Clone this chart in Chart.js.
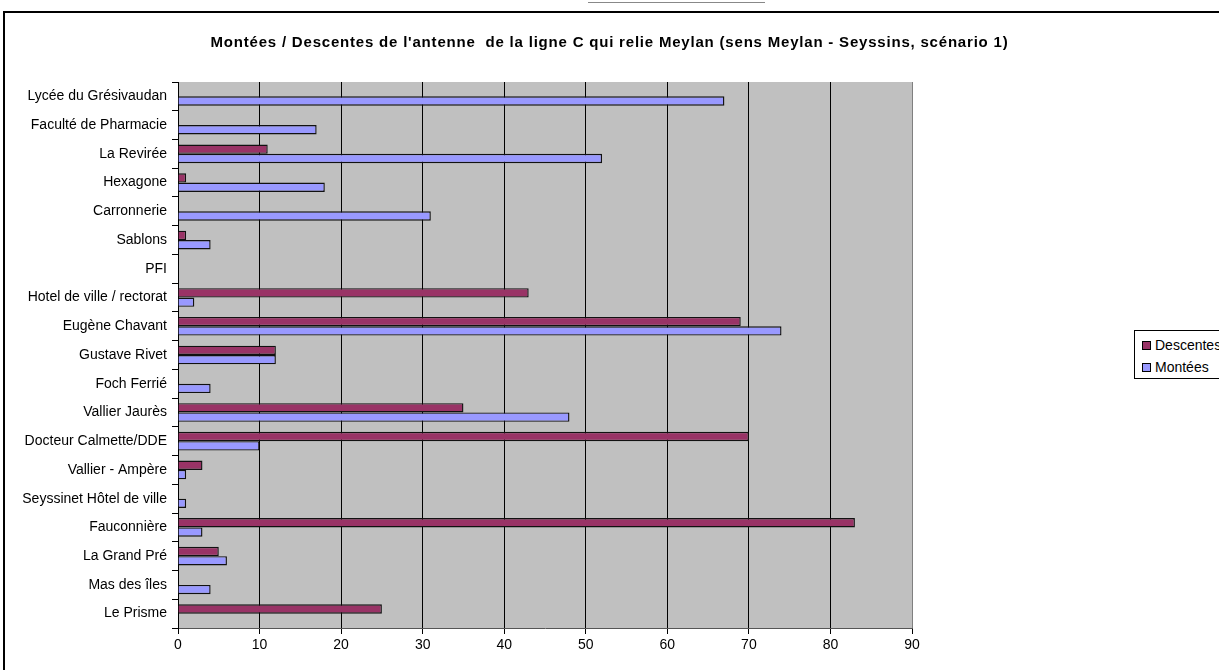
<!DOCTYPE html>
<html>
<head>
<meta charset="utf-8">
<script src="https://cdn.jsdelivr.net/npm/chart.js@4.4.0/dist/chart.umd.min.js"></script>
<style>
  html, body { margin: 0; padding: 0; background: #fff; overflow: hidden; }
  #page { position: relative; width: 1219px; height: 670px; overflow: hidden; }
  #cadre { position: absolute; left: 3px; top: 11px; width: 1300px; height: 700px; border: 2px solid #000; box-sizing: border-box; }
  #haut { position: absolute; left: 588px; top: 0; width: 177px; height: 2px; border-bottom: 1px solid #888; }
  #graf { position: absolute; left: 0; top: 0; }
  #titre { position: absolute; left: 0; width: 1219px; top: 33px; text-align: center; white-space: pre;
           font: bold 15px "Liberation Sans", Arial, sans-serif; letter-spacing: 0.8px; color: #000; }
  #legende { position: absolute; left: 1134px; top: 330px; width: 120px; height: 49px; border: 1px solid #000; box-sizing: border-box;
             font-family: "Liberation Sans", Arial, sans-serif; font-size: 14px; color: #000; background: #fff; }
  #legende div { position: absolute; left: 7px; white-space: nowrap; }
  #legende span { display: inline-block; width: 7px; height: 7px; border: 1px solid #000; margin-right: 4px; vertical-align: 0px; }
</style>
</head>
<body>
<div id="page">
  <div id="haut"></div>
  <div id="cadre"></div>
  <canvas id="graf" width="1219" height="670"></canvas>
  <div id="titre"></div>
  <div id="legende"></div>
</div>
<script>
var arrets = ['Lycée du Grésivaudan', 'Faculté de Pharmacie', 'La Revirée', 'Hexagone', 'Carronnerie', 'Sablons', 'PFI',
    'Hotel de ville / rectorat', 'Eugène Chavant', 'Gustave Rivet', 'Foch Ferrié', 'Vallier Jaurès', 'Docteur Calmette/DDE',
    'Vallier - Ampère', 'Seyssinet Hôtel de ville', 'Fauconnière', 'La Grand Pré', 'Mas des îles', 'Le Prisme']
var descentes = [0, 0, 11, 1, 0, 1, 0, 43, 69, 12, 0, 35, 70, 3, 0, 83, 5, 0, 25]
var montees   = [67, 17, 52, 18, 31, 4, 0, 2, 74, 12, 4, 48, 10, 1, 1, 3, 6, 4, 0]
var ticksX = [0, 10, 20, 30, 40, 50, 60, 70, 80, 90]
var titre = "Montées / Descentes de l'antenne  de la ligne C qui relie Meylan (sens Meylan - Seyssins, scénario 1)"

var police = '"Liberation Sans", Arial, sans-serif'

// fond gris de la zone de tracé
var fondGris = {
    id: 'fondGris',
    beforeDraw: function (chart) {
        var a = chart.chartArea
        var ctx = chart.ctx
        ctx.save()
        ctx.fillStyle = '#c0c0c0'
        ctx.fillRect(a.left, a.top, a.right - a.left, a.bottom - a.top)
        ctx.restore()
    }
}

var series = [
    { label: 'Descentes', data: descentes, backgroundColor: '#993366' },
    { label: 'Montées', data: montees, backgroundColor: '#9999ff' }
]

document.getElementById('titre').textContent = titre

var graf = new Chart('graf', {
    type: 'bar',
    data: {
        labels: arrets,
        datasets: series.map(function (s) {
            return {
                label: s.label,
                data: s.data,
                backgroundColor: s.backgroundColor,
                borderColor: '#111',
                borderWidth: 1.4,
                borderSkipped: 'start',
                categoryPercentage: 0.65,
                barPercentage: 1
            }
        })
    },
    options: {
        indexAxis: 'y',
        responsive: false,
        animation: false,
        layout: { padding: { left: 0, right: 307, top: 82, bottom: 0 } },
        plugins: {
            legend: { display: false },
            tooltip: { enabled: false },
            title: { display: false }
        },
        scales: {
            x: {
                min: 0, max: 90,
                afterBuildTicks: function (s) { s.ticks = ticksX.map(function (v) { return { value: v } }) },
                afterFit: function (s) { s.height = 42 },
                grid: {
                    color: function (c) { return c.tick && c.tick.value === 90 ? '#808080' : '#000' },
                    lineWidth: 1,
                    tickLength: 6,
                    tickColor: '#000'
                },
                border: { display: true, color: '#555', width: 1 },
                ticks: { color: '#000', font: { family: police, size: 14 }, padding: 3, maxRotation: 0 }
            },
            y: {
                afterFit: function (s) { s.width = 178 },
                grid: { drawOnChartArea: false, tickLength: 6, tickColor: '#000', offset: true },
                border: { display: true, color: '#000', width: 1 },
                ticks: { color: '#000', font: { family: police, size: 14 }, padding: 5, autoSkip: false }
            }
        }
    },
    plugins: [fondGris]
})

// légende à droite, encadrée
var leg = document.getElementById('legende')
series.forEach(function (s, i) {
    var d = document.createElement('div')
    d.style.top = (6 + i * 22) + 'px'
    d.innerHTML = '<span style="background:' + s.backgroundColor + '"></span>' + s.label
    leg.appendChild(d)
})
</script>
</body>
</html>
